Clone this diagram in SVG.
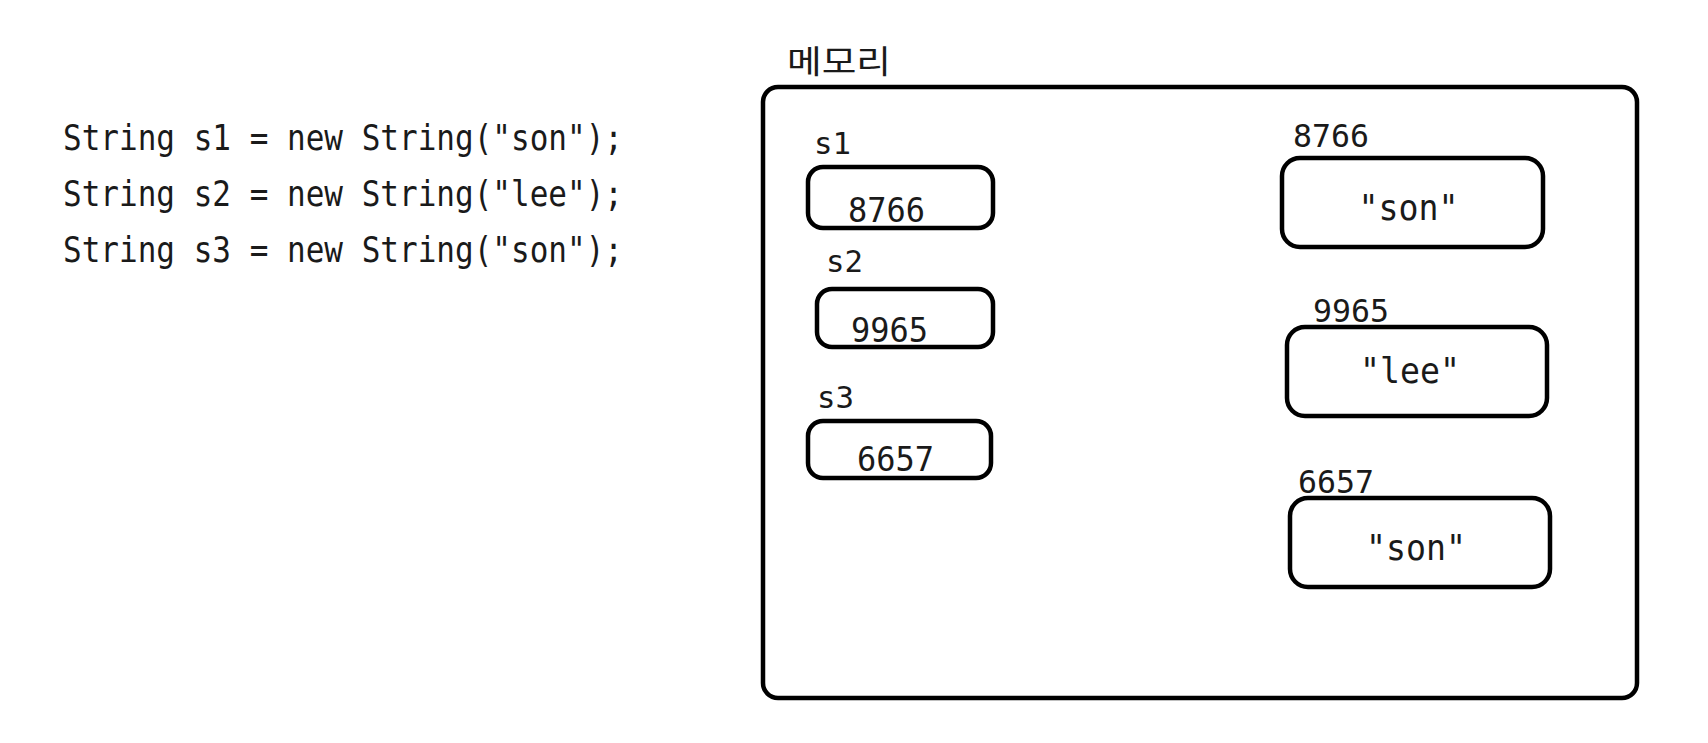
<svg xmlns="http://www.w3.org/2000/svg" width="1708" height="743" viewBox="0 0 1708 743">
<style>
.bg{fill:#ffffff}
.box{fill:none;stroke:#000;stroke-width:4.5}
.t{font-family:"DejaVu Sans Mono","Liberation Mono",monospace;fill:#1a1a1a}
.code{font-size:35px}
.lbl{font-size:31px}
.num{font-size:34px}
.rnum{font-size:32px}
.str{font-size:36px}
.kr{font-family:"Noto Sans CJK KR","DejaVu Sans",sans-serif;font-size:32px;fill:#1a1a1a}
</style>
<rect class="bg" x="0" y="0" width="1708" height="743"/>
<g id="code">
<text class="t code" x="63" y="150" textLength="560" lengthAdjust="spacingAndGlyphs">String s1 = new String("son");</text>
<text class="t code" x="63" y="206" textLength="560" lengthAdjust="spacingAndGlyphs">String s2 = new String("lee");</text>
<text class="t code" x="63" y="262" textLength="560" lengthAdjust="spacingAndGlyphs">String s3 = new String("son");</text>
</g>
<g id="memory">
<text class="kr" x="787" y="73" textLength="104" lengthAdjust="spacingAndGlyphs">메모리</text>
<rect class="box" x="763" y="87" width="874" height="611" rx="15"/>
</g>
<g id="s1">
<text class="t lbl" x="814" y="154" textLength="37" lengthAdjust="spacingAndGlyphs">s1</text>
<rect class="box" x="808" y="167" width="185" height="61" rx="15"/>
<text class="t num" x="848" y="222" textLength="77" lengthAdjust="spacingAndGlyphs">8766</text>
</g>
<g id="s2">
<text class="t lbl" x="826" y="272" textLength="37" lengthAdjust="spacingAndGlyphs">s2</text>
<rect class="box" x="817" y="289" width="176" height="58" rx="15"/>
<text class="t num" x="851" y="342" textLength="77" lengthAdjust="spacingAndGlyphs">9965</text>
</g>
<g id="s3">
<text class="t lbl" x="817" y="408" textLength="37" lengthAdjust="spacingAndGlyphs">s3</text>
<rect class="box" x="808" y="421" width="183" height="57" rx="15"/>
<text class="t num" x="857" y="471" textLength="77" lengthAdjust="spacingAndGlyphs">6657</text>
</g>
<g id="obj8766">
<text class="t rnum" x="1293" y="147" textLength="76" lengthAdjust="spacingAndGlyphs">8766</text>
<rect class="box" x="1282" y="158" width="261" height="89" rx="18"/>
<text class="t str" x="1408.5" y="220" text-anchor="middle" textLength="100" lengthAdjust="spacingAndGlyphs">"son"</text>
</g>
<g id="obj9965">
<text class="t rnum" x="1313" y="322" textLength="76" lengthAdjust="spacingAndGlyphs">9965</text>
<rect class="box" x="1287" y="327" width="260" height="89" rx="18"/>
<text class="t str" x="1410" y="383" text-anchor="middle" textLength="100" lengthAdjust="spacingAndGlyphs">"lee"</text>
</g>
<g id="obj6657">
<text class="t rnum" x="1298" y="493" textLength="76" lengthAdjust="spacingAndGlyphs">6657</text>
<rect class="box" x="1290" y="498" width="260" height="89" rx="18"/>
<text class="t str" x="1416" y="560" text-anchor="middle" textLength="100" lengthAdjust="spacingAndGlyphs">"son"</text>
</g>
<g id="connectors"></g>
</svg>
